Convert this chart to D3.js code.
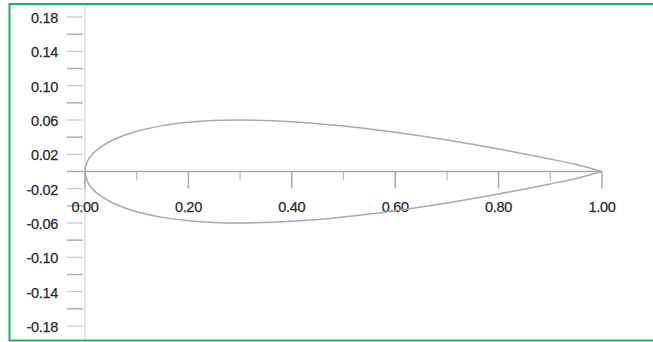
<!DOCTYPE html>
<html><head><meta charset="utf-8">
<script src="https://cdn.jsdelivr.net/npm/d3@7"></script>
<style>body{margin:0;background:#fff;overflow:hidden}svg{display:block}</style>
</head><body>
<svg id="c" width="653" height="342"></svg>
<script>
// NACA 0012 half-thickness distribution
const stationX = [0, 0.005, 0.0125, 0.025, 0.05, 0.075, 0.1, 0.15, 0.2, 0.25, 0.3, 0.4, 0.5, 0.6, 0.7, 0.8, 0.9, 0.95, 1.0];
const halfThick = [0, 0.0122, 0.01894, 0.02615, 0.03555, 0.042, 0.04683, 0.05345, 0.05737, 0.05941, 0.06002, 0.05803, 0.05294, 0.04563, 0.03664, 0.02623, 0.01448, 0.00807, 0];
const xTicksMajor = [0, 0.2, 0.4, 0.6, 0.8, 1.0];
const xTicksMinor = [0.1, 0.3, 0.5, 0.7, 0.9];
const yTicksLabeled = [0.18, 0.14, 0.10, 0.06, 0.02, -0.02, -0.06, -0.10, -0.14, -0.18];
const yTicksMinor = [0.16, 0.12, 0.08, 0.04, -0.04, -0.08, -0.12, -0.16];

const svg = d3.select("#c");
const x = d3.scaleLinear().domain([0, 1]).range([85, 602]);
const y = d3.scaleLinear().domain([0.18, -0.18]).range([17, 326]);
const font = "Liberation Sans, Arial, Helvetica, sans-serif";
const fmt = d => d.toFixed(2);

// border (right edge falls outside the picture)
svg.append("rect").attr("x", 9.5).attr("y", 4).attr("width", 660).attr("height", 336.5)
  .attr("fill", "none").attr("stroke", "#1db06a").attr("stroke-width", 2);

// y axis line
svg.append("line").attr("x1", x(0)).attr("x2", x(0)).attr("y1", 6).attr("y2", 339)
  .attr("stroke", "#ddd").attr("stroke-width", 1.5);

// y ticks
svg.selectAll(".ytl").data(yTicksLabeled).join("line")
  .attr("x1", 67).attr("x2", 83).attr("y1", d => y(d)).attr("y2", d => y(d))
  .attr("stroke", "#c8c8c8").attr("stroke-width", 1.2);
svg.selectAll(".ytm").data(yTicksMinor).join("line")
  .attr("x1", 67).attr("x2", 83).attr("y1", d => y(d)).attr("y2", d => y(d))
  .attr("stroke", "#b0b0b0").attr("stroke-width", 1.5);
svg.selectAll(".ylab").data(yTicksLabeled).join("text")
  .attr("x", 58).attr("y", d => y(d) + 1).attr("dy", "0.35em")
  .attr("text-anchor", "end").attr("font-family", font)
  .attr("font-size", 14.5).attr("fill", "#2a2a2a").attr("letter-spacing", -0.3)
  .attr("stroke", "#2a2a2a").attr("stroke-width", 0.25)
  .text(fmt);

// x axis line
svg.append("line").attr("x1", 67).attr("x2", x(1)).attr("y1", y(0)).attr("y2", y(0))
  .attr("stroke", "#aaa").attr("stroke-width", 1.5);
svg.selectAll(".xtM").data(xTicksMajor).join("line")
  .attr("x1", d => x(d)).attr("x2", d => x(d)).attr("y1", y(0)).attr("y2", y(0) + 17)
  .attr("stroke", "#aaa").attr("stroke-width", 1.5);
svg.selectAll(".xtm").data(xTicksMinor).join("line")
  .attr("x1", d => x(d)).attr("x2", d => x(d)).attr("y1", y(0)).attr("y2", y(0) + 9)
  .attr("stroke", "#bbb").attr("stroke-width", 1.2);
svg.selectAll(".xlab").data(xTicksMajor).join("text")
  .attr("x", d => x(d)).attr("y", 207).attr("dy", "0.35em")
  .attr("text-anchor", "middle").attr("font-family", font)
  .attr("font-size", 14.5).attr("fill", "#2a2a2a").attr("letter-spacing", -0.3)
  .attr("stroke", "#2a2a2a").attr("stroke-width", 0.25)
  .text(fmt);

// airfoil outline: upper surface TE->LE, lower surface LE->TE
const upper = stationX.map((sx, i) => [sx, halfThick[i]]).reverse();
const lower = stationX.map((sx, i) => [sx, -halfThick[i]]).slice(1);
const pts = upper.concat(lower);
const line = d3.line().x(d => x(d[0])).y(d => y(d[1])).curve(d3.curveCatmullRom.alpha(0.5));
svg.append("path").attr("d", line(pts)).attr("fill", "none")
  .attr("stroke", "#aaa").attr("stroke-width", 1.5);
</script>
</body></html>
